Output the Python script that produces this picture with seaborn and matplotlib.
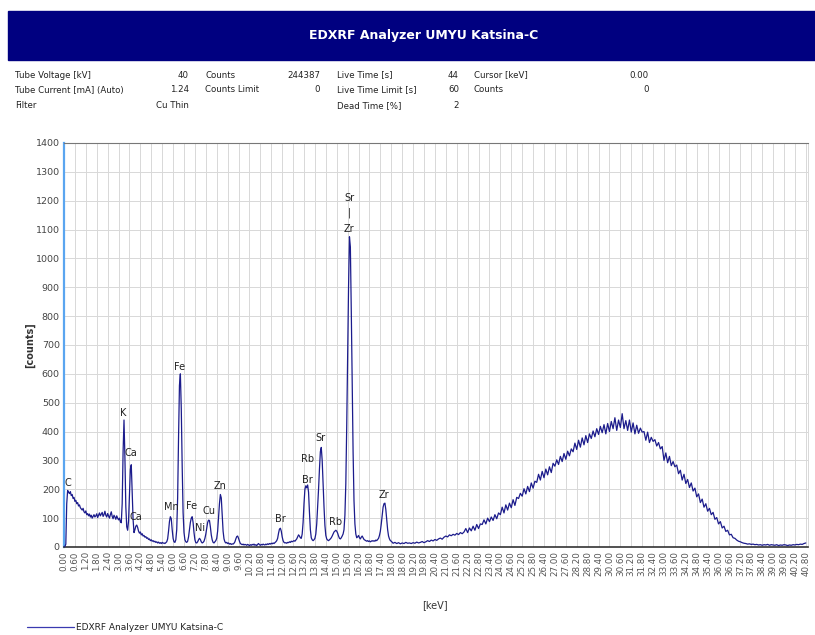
import numpy as np
import pandas as pd
import matplotlib
matplotlib.use("Agg")
import matplotlib.pyplot as plt
from matplotlib.patches import Rectangle
import seaborn as sns

# ---------------- data ----------------
title = "EDXRF Analyzer UMYU Katsina-C"

info_col1 = [("Tube Voltage [kV]", "40"), ("Tube Current [mA] (Auto)", "1.24"), ("Filter", "Cu Thin")]
info_col2 = [("Counts", "244387"), ("Counts Limit", "0")]
info_col3 = [("Live Time [s]", "44"), ("Live Time Limit [s]", "60"), ("Dead Time [%]", "2")]
info_col4 = [("Cursor [keV]", "0.00"), ("Counts", "0")]

# energy grid: 0.05 keV channels up to 18 keV, 0.1 keV above
kev_fine = np.round(np.arange(0, 18.001, 0.05), 2)
counts_fine = [
    0, 2, 10, 150, 196, 190, 185, 192, 178, 182, 168, 172, 158, 162, 150, 154, 142, 146, 136, 132,
    128, 134, 122, 118, 125, 112, 116, 108, 114, 104, 110, 100, 106, 112, 104, 108, 115, 102, 110, 118,
    108, 114, 120, 106, 112, 124, 110, 104, 116, 108, 100, 112, 122, 106, 98, 110, 104, 96, 108, 100,
    94, 100, 88, 84, 150, 330, 440, 310, 140, 70, 58, 90, 180, 270, 285, 190, 95, 50, 60, 72,
    76, 68, 55, 48, 52, 42, 46, 38, 40, 34, 36, 30, 32, 26, 28, 22, 25, 20, 22, 18,
    20, 16, 18, 14, 17, 13, 15, 12, 16, 13, 14, 12, 15, 18, 28, 55, 88, 105, 98, 60,
    30, 18, 16, 25, 60, 170, 380, 560, 600, 480, 280, 120, 50, 25, 18, 16, 20, 35, 60, 85,
    100, 105, 85, 50, 25, 15, 14, 18, 25, 30, 26, 18, 14, 16, 20, 30, 45, 65, 85, 93,
    92, 70, 42, 25, 16, 14, 18, 22, 30, 55, 100, 150, 182, 170, 110, 55, 28, 18, 14, 16,
    12, 14, 10, 12, 9, 11, 10, 13, 18, 28, 36, 38, 30, 20, 12, 10, 8, 10, 7, 9,
    8, 6, 9, 7, 5, 8, 6, 9, 7, 10, 6, 8, 5, 9, 12, 8, 6, 9, 7, 10,
    8, 7, 10, 8, 11, 9, 12, 10, 13, 11, 14, 12, 15, 18, 22, 30, 48, 62, 65, 55,
    35, 22, 16, 14, 15, 13, 16, 15, 18, 16, 20, 18, 20, 22, 20, 24, 28, 35, 42, 38,
    32, 30, 45, 85, 150, 200, 212, 205, 215, 190, 120, 60, 32, 25, 22, 25, 30, 45, 80, 140,
    200, 270, 330, 345, 300, 220, 140, 75, 40, 28, 24, 22, 25, 28, 32, 38, 45, 52, 55, 58,
    55, 48, 38, 30, 28, 32, 38, 45, 60, 110, 220, 420, 650, 900, 1075, 1040, 820, 570, 330, 160,
    80, 45, 32, 35, 40, 32, 28, 34, 38, 32, 26, 24, 22, 20, 22, 19, 21, 18, 20, 22,
    20, 22, 20, 24, 22, 26, 30, 40, 55, 80, 110, 138, 150, 152, 130, 95, 60, 38, 28, 22,
    20,
]
kev_coarse = np.round(np.arange(18.1, 40.801, 0.1), 1)
counts_coarse = [
    13, 16, 12, 15, 11, 14, 12, 16, 13,
    14, 12, 15, 13, 17, 14, 16, 19, 15, 18,
    22, 19, 24, 21, 26, 23, 28, 31, 27, 34,
    38, 35, 42, 39, 44, 41, 47, 43, 50, 46,
    52, 64, 50, 66, 56, 72, 58, 78, 64, 80,
    78, 94, 80, 100, 88, 104, 92, 112, 98, 118,
    112, 138, 118, 146, 128, 152, 136, 164, 144, 172,
    168, 186, 176, 202, 184, 210, 192, 222, 204, 228,
    224, 252, 232, 262, 240, 270, 250, 278, 258, 290,
    280, 302, 286, 314, 296, 324, 304, 332, 316, 340,
    330, 360, 338, 370, 346, 378, 354, 386, 362, 392,
    376, 402, 382, 410, 390, 418, 396, 424, 392, 428,
    400, 435, 410, 448, 404, 440, 414, 462, 410, 438,
    404, 440, 398, 430, 392, 422, 394, 412, 398, 400,
    370, 398, 362, 380, 366, 372, 350, 362, 340, 348,
    300, 326, 292, 314, 282, 296, 278, 284, 254, 266,
    232, 252, 220, 234, 206, 222, 194, 204, 174, 184,
    154, 166, 138, 150, 124, 134, 112, 120, 96, 102,
    80, 88, 66, 72, 54, 58, 42, 44, 32, 30,
    24, 20, 18, 15, 13, 12, 10, 11, 9, 10,
    8, 9, 7, 8, 6, 8, 7, 9, 6, 8,
    7, 6, 8, 5, 7, 6, 8, 7, 5, 7,
    6, 8, 7, 9, 8, 10, 9, 12, 14,
]

# element annotations: (label, keV, counts)
peak_labels = [
    ("C", 0.24, 223), ("K", 3.26, 465), ("Ca", 3.68, 325), ("Ca", 3.94, 104),
    ("Mn", 5.88, 140), ("Fe", 6.34, 625), ("Fe", 7.02, 142), ("Ni", 7.48, 66),
    ("Cu", 7.99, 125), ("Zn", 8.58, 211), ("Br", 11.91, 97), ("Rb", 13.38, 305),
    ("Br", 13.39, 232), ("Sr", 14.13, 378), ("Rb", 14.92, 88), ("Sr", 15.72, 1210),
    ("|", 15.72, 1158), ("Zr", 15.68, 1101), ("Zr", 17.61, 180),
]

x_ticks = np.round(np.arange(0, 40.81, 0.6), 2)
y_ticks = list(range(0, 1401, 100))

# ---------------- plot ----------------
sns.set_style("white")
narrow = ["Liberation Sans Narrow", "DejaVu Sans Condensed", "DejaVu Sans"]
plt.rcParams["font.family"] = narrow

W, H = 815, 635
fig = plt.figure(figsize=(W / 100, H / 100), dpi=100)

# header bar
fig.patches.append(Rectangle((8 / W, 1 - 60 / H), (W - 8) / W, 49 / H,
                             transform=fig.transFigure, color="#000080", zorder=0))
fig.text(424 / W, 1 - 36 / H, title, color="white", fontsize=9,
         fontweight="bold", ha="center", va="center")

# info block
rows_y = [75, 90, 106]
cols = [(info_col1, 15, 189), (info_col2, 205, 320), (info_col3, 337, 459), (info_col4, 474, 649)]
for items, xl, xr in cols:
    for (lab, val), yy in zip(items, rows_y):
        fig.text(xl / W, 1 - yy / H, lab, fontsize=6.2, color="#222222", ha="left", va="center")
        fig.text(xr / W, 1 - yy / H, val, fontsize=6.2, color="#222222", ha="right", va="center")

ax = fig.add_axes([64 / W, 1 - 547 / H, (808 - 64) / W, (547 - 143) / H])

df = pd.DataFrame({
    "keV": np.concatenate([kev_fine, kev_coarse]),
    "counts": np.concatenate([counts_fine, counts_coarse]),
})
sns.lineplot(data=df, x="keV", y="counts", ax=ax, color="#1c1c8c", linewidth=0.9,
             estimator=None, label=title, zorder=3)

ax.set_xlim(0, 40.92)
ax.set_ylim(0, 1400)
ax.set_xticks(x_ticks)
ax.set_xticklabels([f"{t:.2f}" for t in x_ticks], rotation=90, fontsize=6.3, color="#555555")
ax.set_yticks(y_ticks)
ax.set_yticklabels([str(v) for v in y_ticks], fontsize=6.8, color="#444444")
ax.tick_params(axis="both", length=0, pad=3)
ax.grid(True, color="#d8d8d8", linewidth=0.7)
ax.set_axisbelow(True)

ax.spines["left"].set_color("#5aa5f0")
ax.spines["left"].set_linewidth(1.6)
ax.spines["bottom"].set_color("#333333")
ax.spines["bottom"].set_linewidth(1.2)
ax.spines["top"].set_color("#777777")
ax.spines["top"].set_linewidth(0.8)
ax.spines["right"].set_color("#d8d8d8")
ax.spines["right"].set_linewidth(0.7)

ax.set_ylabel("[counts]", fontsize=7, fontweight="bold", color="#333333")
ax.yaxis.set_label_coords((35 - 64) / 744, 0.5)
ax.set_xlabel("[keV]", fontsize=7, color="#333333")
ax.xaxis.set_label_coords(0.499, -0.131)

for lab, xk, yc in peak_labels:
    ax.text(xk, yc, lab, fontsize=7, color="#222222", ha="center", va="center", zorder=4)

leg = ax.legend(loc="center left", bbox_to_anchor=(22 / W, 1 - 628 / H),
                bbox_transform=fig.transFigure, frameon=False, fontsize=6.5,
                handlelength=5.3, handletextpad=0.2, borderpad=0)
for t in leg.get_texts():
    t.set_color("#222222")
for l in leg.get_lines():
    l.set_color("#3a3ab0")
    l.set_linewidth(0.9)

fig.savefig("out.png", dpi=100)
